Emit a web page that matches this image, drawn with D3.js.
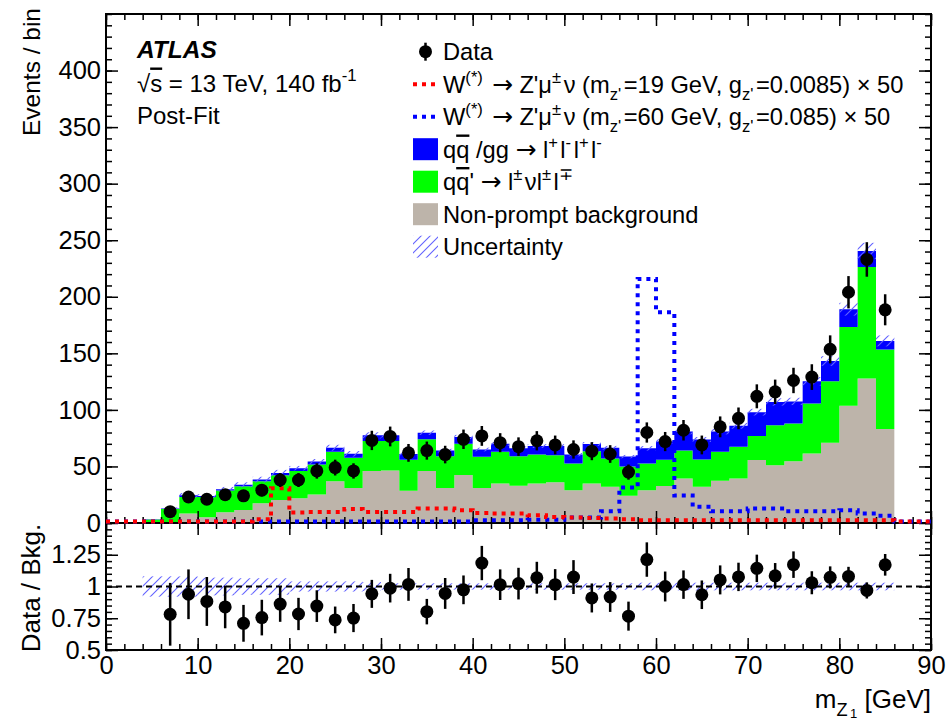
<!DOCTYPE html>
<html>
<head>
<meta charset="utf-8">
<script src="https://cdn.jsdelivr.net/npm/d3@7"></script>
<style>
body { margin: 0; background: #fff; }
text { font-family: "Liberation Sans", Arial, Helvetica, sans-serif; white-space: pre; }
</style>
</head>
<body>
<script>
// --- data (2 GeV bins, lower edges) ---
var binLow = [4,6,8,10,12,14,16,18,20,22,24,26,28,30,32,34,36,38,40,42,44,46,48,50,52,54,56,58,60,62,64,66,68,70,72,74,76,78,80,82,84];
var nonprompt = [0,0.3,8.5,5,9.4,11.5,17.4,20.3,21.8,25.3,37,31,46,46.5,28.5,46,31,42.4,31,35,33,35,36,29,35,32,24,29,32.7,39.4,32,37.4,39.4,55.6,51,54.7,61.5,71,103.6,127.7,83];
var wz = [3,12,14.5,18,19.4,21,19.6,22,24.2,26.5,26,26.7,26.5,26,27.5,28,28,27.6,27.5,28,26,25.5,24,23.7,28.5,25,26,23.7,23.3,24.6,24.2,25.6,28,21.4,35.5,33.3,44.2,54.4,69.7,98.6,70.4];
var zz = [0.3,0.5,1.5,0.8,1.0,1.3,1.4,1.8,2.5,2.6,3.5,3.5,5,5,5,5.8,5,6,6.5,7,7,7.5,8,7.8,6.3,9.5,8.7,13.3,16,16.8,17.6,17.8,18.6,21,20.5,19.5,19.6,17.8,15.7,14.2,7.6];
var dataCounts = [null,10,23,21,25,24,29,38,38,46,49,46,73,76.5,62,64,60.5,74,77,71,67.5,72.7,69,65,63.5,61,45,80,72,82,69,85,92.5,112,116,126,129,153.5,204,233,188.5];
var uncRel = [0.08,0.08,0.08,0.07,0.07,0.065,0.065,0.065,0.04,0.04,0.04,0.04,0.035,0.025,0.025,0.025,0.025,0.025,0.025,0.025,0.025,0.025,0.025,0.025,0.025,0.025,0.025,0.03,0.03,0.03,0.03,0.03,0.03,0.03,0.03,0.03,0.03,0.03,0.03,0.03,0.03];

// signal histograms (x50), bins over the full range
var sigEdges = [0,2,4,6,8,10,12,14,16,18,20,22,24,26,28,30,32,34,36,38,40,42,44,46,48,50,52,54,56,58,60,62,64,66,68,70,72,74,76,78,80,82,84,86,88];
var sig19 = [0,0,0,0,0,0,0,0,2,29.5,8,8.5,8.5,11,8.5,8.5,8.5,11.5,11.5,10,7.6,7,7,5.5,4,3.5,3.2,2.6,2,1.2,1,1,1,1,1,1,1,1,1,1,1,1,1,0,0];
var sig60 = [0,0,0,0,0,0,0,0,0,0,0,0,0,0,0,0,0,0,0,0,1,1,1,1.5,1.5,3.5,3.5,9,30,214.5,185,23,13,9,9,11.5,11.5,9,9,9,10,7,5,0,0];

var xTickVals = [0,10,20,30,40,50,60,70,80,90];
var ratioTickVals = [0.5,0.75,1,1.25];

var binW = 2;
var width = 950, height = 723;
var left = 106, right = 931, mainTop = 14, mainBot = 523, ratioBot = 650;
var fontFam = '"Liberation Sans", Arial, Helvetica, sans-serif';

var svg = d3.select("body").append("svg").attr("width", width).attr("height", height);
svg.append("rect").attr("width", width).attr("height", height).attr("fill", "#fff");

var x = d3.scaleLinear().domain([0, 90]).range([left, right]);
var y = d3.scaleLinear().domain([0, 450]).range([mainBot, mainTop]);
var yr = d3.scaleLinear().domain([0.5, 1.5]).range([ratioBot, mainBot]);

var defs = svg.append("defs");
var pat = defs.append("pattern").attr("id", "hatch").attr("patternUnits", "userSpaceOnUse")
    .attr("width", 9).attr("height", 9);
pat.append("path").attr("d", "M0,9 L9,0 M-2,2 L2,-2 M7,11 L11,7")
    .attr("stroke", "#6262ff").attr("stroke-width", 1.1);
defs.append("clipPath").attr("id", "clipMain").append("rect")
    .attr("x", left).attr("y", mainTop).attr("width", right - left).attr("height", mainBot - mainTop);
defs.append("clipPath").attr("id", "clipSig").append("rect")
    .attr("x", left).attr("y", mainTop).attr("width", right - left).attr("height", mainBot - mainTop + 3);
defs.append("clipPath").attr("id", "clipRatio").append("rect")
    .attr("x", left).attr("y", mainBot).attr("width", right - left).attr("height", ratioBot - mainBot);

// ---------- main panel ----------
var main = svg.append("g").attr("clip-path", "url(#clipMain)");

var rows = binLow.map(function(b, i) { return {x: b, np: nonprompt[i], wz: wz[i], zz: zz[i]}; });
var lastRow = rows[rows.length - 1];
rows.push({x: lastRow.x + binW, np: lastRow.np, wz: lastRow.wz, zz: lastRow.zz});
var stacked = d3.stack().keys(["np", "wz", "zz"])(rows);
var colors = {np: "#bdb4aa", wz: "#00ff00", zz: "#0000ff"};
var area = d3.area().curve(d3.curveStepAfter)
    .x(function(d) { return x(d.data.x); })
    .y0(function(d) { return y(d[0]); })
    .y1(function(d) { return y(d[1]); });
main.selectAll("path.stack").data(stacked).enter().append("path")
    .attr("class", "stack")
    .attr("fill", function(d) { return colors[d.key]; })
    .attr("d", area);

var totals = binLow.map(function(b, i) { return nonprompt[i] + wz[i] + zz[i]; });

main.selectAll("rect.unc").data(binLow).enter().append("rect")
    .attr("class", "unc")
    .attr("x", function(b) { return x(b); })
    .attr("width", function(b) { return x(b + binW) - x(b); })
    .attr("y", function(b, i) { return y(totals[i] * (1 + uncRel[i])); })
    .attr("height", function(b, i) { return y(totals[i] * (1 - uncRel[i])) - y(totals[i] * (1 + uncRel[i])); })
    .attr("fill", "url(#hatch)");

var pts = binLow.map(function(b, i) { return {c: b + binW / 2, n: dataCounts[i], t: totals[i]}; })
    .filter(function(d) { return d.n !== null; });

// ---------- ratio panel ----------
var rat = svg.append("g").attr("clip-path", "url(#clipRatio)");
rat.selectAll("rect.unc").data(binLow).enter().append("rect")
    .attr("x", function(b) { return x(b); })
    .attr("width", function(b) { return x(b + binW) - x(b); })
    .attr("y", function(b, i) { return yr(1 + uncRel[i]); })
    .attr("height", function(b, i) { return yr(1 - uncRel[i]) - yr(1 + uncRel[i]); })
    .attr("fill", "url(#hatch)");
rat.append("line").attr("x1", x(0)).attr("x2", x(90)).attr("y1", yr(1)).attr("y2", yr(1))
    .attr("stroke", "#000").attr("stroke-width", 2).attr("stroke-dasharray", "6,4");
rat.selectAll("line.err").data(pts).enter().append("line")
    .attr("x1", function(d) { return x(d.c); }).attr("x2", function(d) { return x(d.c); })
    .attr("y1", function(d) { return yr((d.n + Math.sqrt(d.n)) / d.t); })
    .attr("y2", function(d) { return yr((d.n - Math.sqrt(d.n)) / d.t); })
    .attr("stroke", "#000").attr("stroke-width", 2.5);
rat.selectAll("circle.pt").data(pts).enter().append("circle")
    .attr("cx", function(d) { return x(d.c); }).attr("cy", function(d) { return yr(d.n / d.t); })
    .attr("r", 6.5).attr("fill", "#000");

// ---------- axes ----------
var tickFont = 25.5;
function styleAxis(g) {
  g.select(".domain").remove();
  g.selectAll(".tick line").attr("stroke", "#000").attr("stroke-width", 1.5);
  g.selectAll("text").attr("font-size", tickFont).attr("font-family", fontFam).attr("fill", "#000");
}
function xAxes(yPos, dir, labels) {
  var mk = dir === "bottom" ? d3.axisBottom : d3.axisTop;
  svg.append("g").attr("transform", "translate(0," + yPos + ")")
    .call(mk(x).tickValues(xTickVals).tickSize(-12).tickPadding(6).tickFormat(labels ? d3.format("d") : ""))
    .call(styleAxis);
  svg.append("g").attr("transform", "translate(0," + yPos + ")")
    .call(mk(x).ticks(45).tickSize(-6).tickFormat("")).call(styleAxis);
}
xAxes(mainBot, "bottom", false);
xAxes(mainTop, "top", false);
xAxes(ratioBot, "bottom", true);
xAxes(mainBot, "top", false);

function yAxes(scale, major, minor, fmt) {
  svg.append("g").attr("transform", "translate(" + left + ",0)")
    .call(d3.axisLeft(scale).tickValues(major).tickSize(-12).tickPadding(5).tickFormat(fmt)).call(styleAxis);
  svg.append("g").attr("transform", "translate(" + left + ",0)")
    .call(d3.axisLeft(scale).tickValues(minor).tickSize(-6).tickFormat("")).call(styleAxis);
  svg.append("g").attr("transform", "translate(" + right + ",0)")
    .call(d3.axisRight(scale).tickValues(major).tickSize(-12).tickFormat("")).call(styleAxis);
  svg.append("g").attr("transform", "translate(" + right + ",0)")
    .call(d3.axisRight(scale).tickValues(minor).tickSize(-6).tickFormat("")).call(styleAxis);
}
yAxes(y, y.ticks(9).filter(function(v) { return v < 450; }), y.ticks(45), d3.format("d"));
yAxes(yr, ratioTickVals, yr.ticks(20), function(v) { return String(v); });

svg.append("rect").attr("x", left).attr("y", mainTop).attr("width", right - left).attr("height", mainBot - mainTop)
    .attr("fill", "none").attr("stroke", "#000").attr("stroke-width", 2);
svg.append("rect").attr("x", left).attr("y", mainBot).attr("width", right - left).attr("height", ratioBot - mainBot)
    .attr("fill", "none").attr("stroke", "#000").attr("stroke-width", 2);

// signals and data on top of the frame, as in the original
var sigG = svg.append("g").attr("clip-path", "url(#clipSig)");
function sigLine(vals) {
  var p = sigEdges.map(function(e, i) { return [e, vals[i]]; });
  p.push([90, 0]);
  return d3.line().curve(d3.curveStepAfter).x(function(d) { return x(d[0]); }).y(function(d) { return y(d[1]) - 1.5; })(p);
}
sigG.append("path").attr("d", sigLine(sig60)).attr("fill", "none")
    .attr("stroke", "#0000ff").attr("stroke-width", 4).attr("stroke-dasharray", "4,5");
sigG.append("path").attr("d", sigLine(sig19)).attr("fill", "none")
    .attr("stroke", "#ff0000").attr("stroke-width", 4).attr("stroke-dasharray", "4,5");

var dataG = svg.append("g").attr("clip-path", "url(#clipMain)");
dataG.selectAll("line.err").data(pts).enter().append("line")
    .attr("x1", function(d) { return x(d.c); }).attr("x2", function(d) { return x(d.c); })
    .attr("y1", function(d) { return y(d.n + Math.sqrt(d.n)); })
    .attr("y2", function(d) { return y(d.n - Math.sqrt(d.n)); })
    .attr("stroke", "#000").attr("stroke-width", 2.5);
dataG.selectAll("circle.pt").data(pts).enter().append("circle")
    .attr("cx", function(d) { return x(d.c); }).attr("cy", function(d) { return y(d.n); })
    .attr("r", 6.5).attr("fill", "#000");

// ---------- text helpers ----------
function rich(g, px, py, parts, size, anchor) {
  var t = g.append("text").attr("x", px).attr("y", py).attr("font-size", size)
      .attr("text-anchor", anchor || "start").attr("fill", "#000");
  var shift = 0, prevScript = false;
  parts.forEach(function(p) {
    var str = typeof p === "string" ? p : p[0];
    var kind = typeof p === "string" ? "" : p[1];
    var target = kind === "sup" ? -0.42 * size : kind === "sub" ? 0.3 * size : kind === "subsub" ? 0.4 * size : 0;
    var ts = t.append("tspan").attr("dy", target - shift).text(str);
    if (prevScript) ts.attr("dx", 2.5);
    shift = target;
    prevScript = (kind === "sup" || kind === "sub");
    if (kind === "sup" || kind === "sub") ts.attr("font-size", size * 0.7);
    if (kind === "subsub") ts.attr("font-size", size * 0.5);
    if (kind === "ol") ts.style("text-decoration", "overline");
    if (kind === "arrow") ts.attr("font-family", '"DejaVu Sans", sans-serif').attr("font-size", size * 1.05);
  });
  return t;
}
var ARROW = ["\u2192", "arrow"];

// axis titles
svg.append("text").attr("transform", "translate(40,8) rotate(-90)").attr("text-anchor", "end")
    .attr("font-size", 24.5).text("Events / bin");
svg.append("text").attr("transform", "translate(40,588) rotate(-90)").attr("text-anchor", "middle")
    .attr("font-size", 26).text("Data / Bkg.");
rich(svg, right, 708, ["m", ["Z", "sub"], ["1", "subsub"], " [GeV]"], 26, "end");

// ATLAS label
svg.append("text").attr("x", 137).attr("y", 58).attr("font-size", 24.5)
    .attr("font-weight", "bold").attr("font-style", "italic").text("ATLAS");
rich(svg, 137, 91.5, ["\u221A", ["s", "ol"], " = 13 TeV, 140 fb", ["-1", "sup"]], 24);
svg.append("text").attr("x", 137).attr("y", 124).attr("font-size", 24).text("Post-Fit");

// ---------- legend ----------
var legX = 413, legW = 25, legH = 22, legTxt = 443, legSize = 23.7, legY0 = 60, legDy = 32.5;
var lg = svg.append("g");
function rowY(i) { return legY0 + i * legDy; }
function midY(i) { return rowY(i) - 8.3; }

// data marker
lg.append("line").attr("x1", legX + legW / 2).attr("x2", legX + legW / 2)
    .attr("y1", midY(0) - 9).attr("y2", midY(0) + 9).attr("stroke", "#000").attr("stroke-width", 2.5);
lg.append("circle").attr("cx", legX + legW / 2).attr("cy", midY(0)).attr("r", 6.5).attr("fill", "#000");
rich(lg, legTxt, rowY(0), ["Data"], legSize);

// signals
[["#ff0000", "19", "0.0085"], ["#0000ff", "60", "0.085"]].forEach(function(s, k) {
  var i = k + 1;
  lg.append("line").attr("x1", legX).attr("x2", legX + 27).attr("y1", midY(i)).attr("y2", midY(i))
      .attr("stroke", s[0]).attr("stroke-width", 4).attr("stroke-dasharray", "4,5");
  rich(lg, legTxt, rowY(i), ["W", ["(*)", "sup"], " ", ARROW, " Z'\u03BC", ["\u00B1", "sup"], "\u03BD (m", ["z'", "sub"],
      "=" + s[1] + " GeV, g", ["z'", "sub"], "=" + s[2] + ") \u00D7 50"], legSize);
});

// backgrounds
var legBoxes = [
  ["#0000ff", ["q", ["q", "ol"], " /gg ", ARROW, " l", ["+", "sup"], "l", ["-", "sup"], "l", ["+", "sup"], "l", ["-", "sup"]]],
  ["#00ff00", ["q", ["q", "ol"], "' ", ARROW, " l", ["\u00B1", "sup"], "\u03BDl", ["\u00B1", "sup"], "l", ["\u2213", "sup"]]],
  ["#bdb4aa", ["Non-prompt background"]]
];
legBoxes.forEach(function(b, k) {
  var i = k + 3;
  lg.append("rect").attr("x", legX).attr("y", midY(i) - legH / 2).attr("width", legW).attr("height", legH)
      .attr("fill", b[0]);
  rich(lg, legTxt, rowY(i), b[1], legSize);
});
lg.append("rect").attr("x", legX).attr("y", midY(6) - legH / 2).attr("width", legW).attr("height", legH)
    .attr("fill", "url(#hatch)");
rich(lg, legTxt, rowY(6), ["Uncertainty"], legSize);
</script>
</body>
</html>
